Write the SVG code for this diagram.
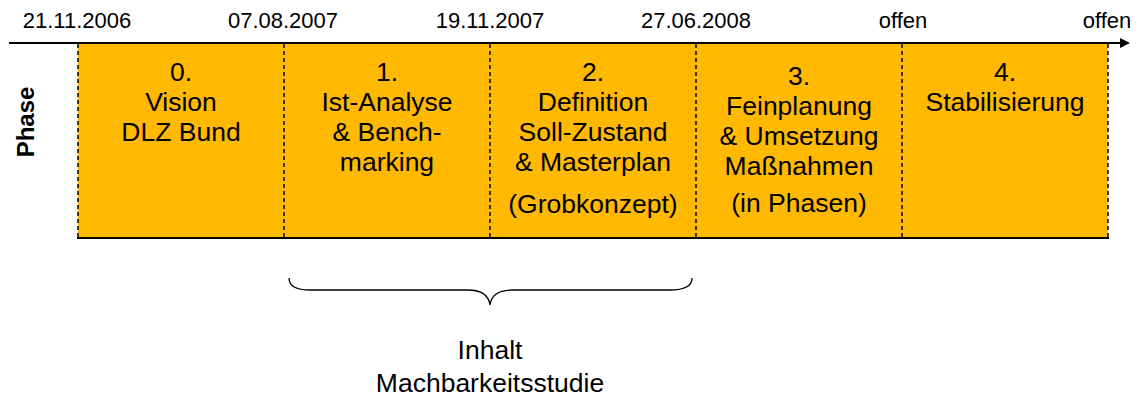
<svg xmlns="http://www.w3.org/2000/svg" width="1140" height="400" viewBox="0 0 1140 400">
  <style>
    text { font-family: "Liberation Sans", Arial, sans-serif; fill: #000; }
    .date { font-size: 22px; text-anchor: middle; }
    .ph { font-size: 26.5px; text-anchor: middle; }
    .cell { fill: #FFB900; stroke: none; }
    .sep { stroke: #000; stroke-width: 1.5; stroke-dasharray: 4 3; }
  </style>
  <defs>
    <marker id="arrow" markerWidth="10" markerHeight="10" refX="8" refY="5" orient="auto" markerUnits="userSpaceOnUse">
      <path d="M0,0 L10,5 L0,10 Z" fill="#000"/>
    </marker>
  </defs>

  <!-- phase blocks -->
  <g id="phase0"><rect class="cell" x="78" y="44" width="206" height="194"/>
    <text class="ph" x="181" y="81">0.</text><text class="ph" x="181" y="111">Vision</text><text class="ph" x="181" y="141">DLZ Bund</text></g>
  <g id="phase1"><rect class="cell" x="284" y="44" width="206" height="194"/>
    <text class="ph" x="387" y="81">1.</text><text class="ph" x="387" y="111">Ist-Analyse</text><text class="ph" x="387" y="141">&amp; Bench-</text><text class="ph" x="387" y="171">marking</text></g>
  <g id="phase2"><rect class="cell" x="490" y="44" width="206" height="194"/>
    <text class="ph" x="593" y="81">2.</text><text class="ph" x="593" y="111">Definition</text><text class="ph" x="593" y="141">Soll-Zustand</text><text class="ph" x="593" y="171">&amp; Masterplan</text><text class="ph" x="593" y="213">(Grobkonzept)</text></g>
  <g id="phase3"><rect class="cell" x="696" y="44" width="206" height="194"/>
    <text class="ph" x="799" y="85">3.</text><text class="ph" x="799" y="115">Feinplanung</text><text class="ph" x="799" y="145">&amp; Umsetzung</text><text class="ph" x="799" y="175">Maßnahmen</text><text class="ph" x="799" y="212">(in Phasen)</text></g>
  <g id="phase4"><rect class="cell" x="902" y="44" width="206" height="194"/>
    <text class="ph" x="1005" y="81">4.</text><text class="ph" x="1005" y="111">Stabilisierung</text></g>

  <!-- lines -->
  <g id="connectors">
    <line class="sep" x1="78" y1="44" x2="78" y2="238"/>
    <line class="sep" x1="284" y1="44" x2="284" y2="238"/>
    <line class="sep" x1="490" y1="44" x2="490" y2="238"/>
    <line class="sep" x1="696" y1="44" x2="696" y2="238"/>
    <line class="sep" x1="902" y1="44" x2="902" y2="238"/>
    <line class="sep" x1="1108" y1="44" x2="1108" y2="238"/>
    <line x1="77" y1="238" x2="1109" y2="238" stroke="#000" stroke-width="2"/>
    <line x1="9" y1="43" x2="1128" y2="43" stroke="#000" stroke-width="2" marker-end="url(#arrow)"/>
    <path d="M289,278 Q289,290 310,290 L468,290 Q488,290 490,305 Q492,290 512,290 L670,290 Q692,290 692,278" fill="none" stroke="#000" stroke-width="1.3"/>
  </g>

  <!-- timeline dates -->
  <g id="dates">
    <text class="date" x="77" y="28">21.11.2006</text>
    <text class="date" x="283" y="28">07.08.2007</text>
    <text class="date" x="490" y="28">19.11.2007</text>
    <text class="date" x="696" y="28">27.06.2008</text>
    <text class="date" x="903" y="28">offen</text>
    <text class="date" x="1107" y="28">offen</text>
  </g>

  <text x="26" y="122" font-size="24" font-weight="bold" text-anchor="middle" transform="rotate(-90 26 122)" dy="8">Phase</text>

  <g id="label">
    <text class="ph" x="490" y="359">Inhalt</text>
    <text class="ph" x="490" y="392">Machbarkeitsstudie</text>
  </g>
</svg>
